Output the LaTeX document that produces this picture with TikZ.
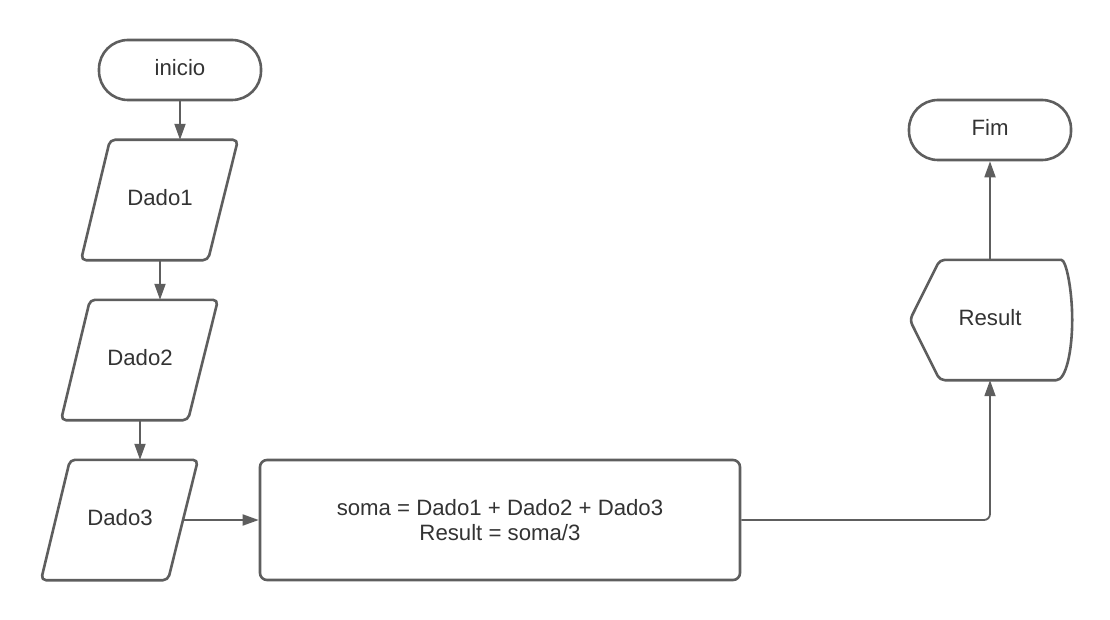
\documentclass[tikz,border=0pt]{standalone}
\usepackage{fontspec}
\setmainfont{Liberation Sans}
\usetikzlibrary{arrows.meta,calc}
\definecolor{ln}{HTML}{5E5E5E}
\definecolor{txt}{HTML}{333333}
\tikzset{
  every node/.style={text=txt, font=\fontsize{22.2}{26}\selectfont, inner sep=0pt},
  lbl/.style={text height=16pt, text depth=5pt},
  term/.style={lbl, draw=ln, line width=2.6pt, rounded corners=29pt, minimum width=162pt, minimum height=60pt},
  iobox/.style={lbl, minimum width=128pt, minimum height=120pt},
  iodraw/.style={draw=ln, line width=2.6pt, rounded corners=5pt, line join=round},
  procbox/.style={draw=ln, line width=2.6pt, rounded corners=7pt, minimum width=480pt, minimum height=120pt, align=center},
  arr/.style={draw=ln, line width=1.8pt, -{Triangle[length=16pt,width=11pt]}},
}
\begin{document}
\begin{tikzpicture}[x=1pt,y=-1pt]
\fill[white] (0,0) rectangle (1110,620);
\useasboundingbox (0,0) rectangle (1110,620);

\node[term] (start) at (180,70) {inicio};
\node[iobox] (d1) at (160,200) {Dado1};
\node[iobox] (d2) at (140,360) {Dado2};
\node[iobox] (d3) at (120,520) {Dado3};
\node[procbox] (box) at (500,520) {soma = Dado1 + Dado2 + Dado3\\[-1pt]Result = soma/3};
\node[lbl, minimum width=160pt, minimum height=120pt] (res) at (990,320) {Result};
\node[term] (fim) at (990,130) {Fim};

\foreach \n in {d1,d2,d3}{
  \draw[iodraw] ([xshift=-50pt]\n.north) -- ([xshift=78pt]\n.north) -- ([xshift=48pt]\n.south) -- ([xshift=-79pt]\n.south) -- cycle;
}

\draw[draw=ln, line width=2.6pt, line join=round]
  (res.north) [rounded corners=5pt] -- ([xshift=-14pt]res.north east)
  [sharp corners] .. controls ([xshift=-4pt]res.north east) and ([xshift=2pt,yshift=-30pt]res.north east) .. ([xshift=2pt]res.east)
  .. controls ([xshift=2pt,yshift=30pt]res.south east) and ([xshift=-4pt]res.south east) .. ([xshift=-14pt]res.south east)
  [rounded corners=5pt] -- ([xshift=30pt]res.south west) -- (res.west) -- ([xshift=30pt]res.north west) -- cycle;

\draw[arr] (start.south) -- (start.south |- d1.north);
\draw[arr] (d1.south) -- (d1.south |- d2.north);
\draw[arr] (d2.south) -- (d2.south |- d3.north);
\draw[arr] (d3.east) -- (d3.east -| box.west);
\draw[arr, rounded corners=6pt] (box.east) -| (res.south);
\draw[arr] (res.north) -- (fim.south);
\end{tikzpicture}
\end{document}
